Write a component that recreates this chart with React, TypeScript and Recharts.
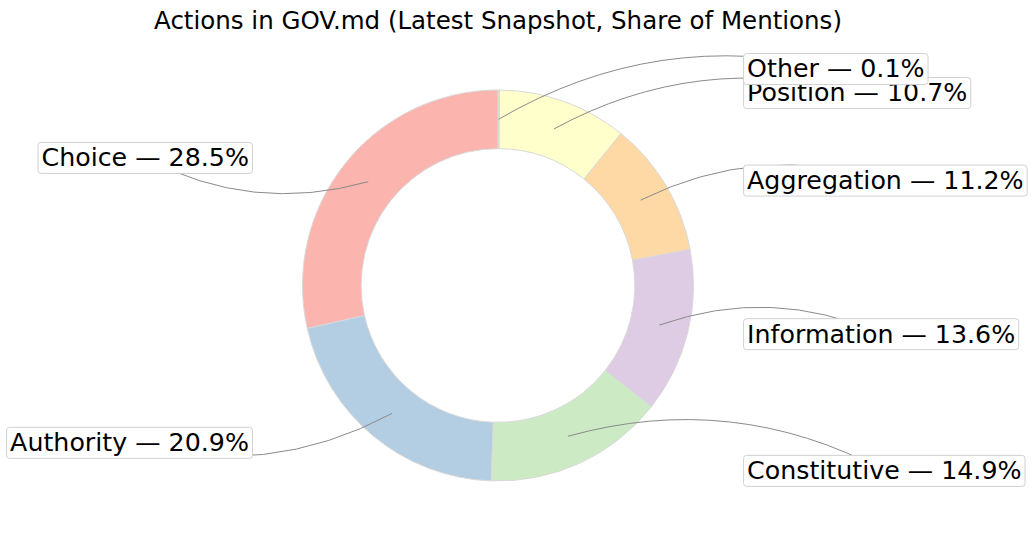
import { PieChart, Pie, Cell } from "recharts";

const categories = ["Choice", "Authority", "Constitutive", "Information", "Aggregation", "Position", "Other"];
const shares = [28.5, 20.9, 14.9, 13.6, 11.2, 10.7, 0.1];
const colors = ["#fbb4ae", "#b3cde3", "#ccebc5", "#decbe4", "#fed9a6", "#ffffcc", "#e5d8bd"];
const title = "Actions in GOV.md (Latest Snapshot, Share of Mentions)";

const W = 1033;
const H = 540;
const CX = 498;
const CY = 285.5;
const R = 195.5;
const FONT = '"DejaVu Sans", sans-serif';
const LABEL_SIZE = 25.3;
const TITLE_SIZE = 24.5;
const RAD = Math.PI / 180;

const data = categories.map((name, i) => ({ name, value: shares[i] }));

// vertical label slots: sin of the wedge mid-angle, pushed apart where boxes would collide
const total = shares.reduce((a, b) => a + b, 0);
const labelUnits: number[] = (() => {
  let acc = 0;
  const items = shares.map((v, i) => {
    const mid = 90 + ((acc + v / 2) / total) * 360;
    acc += v;
    return { i, right: Math.cos(mid * RAD) >= 0, y: Math.sin(mid * RAD) };
  });
  const gap = 0.1175;
  const out = new Array(shares.length).fill(0);
  [true, false].forEach((side) => {
    const s = items.filter((it) => it.right === side).sort((a, b) => a.y - b.y);
    for (let k = 1; k < s.length; k++) {
      if (s[k].y < s[k - 1].y + gap) s[k].y = s[k - 1].y + gap;
    }
    s.forEach((it) => (out[it.i] = it.y));
  });
  return out;
})();

let ctx: CanvasRenderingContext2D | null = null;
const textWidth = (s: string) => {
  if (!ctx) ctx = document.createElement("canvas").getContext("2d");
  if (!ctx) return s.length * LABEL_SIZE * 0.6;
  ctx.font = `${LABEL_SIZE}px ${FONT}`;
  return ctx.measureText(s).width;
};

const renderLabel = (props: any) => {
  const { cx, cy, midAngle, innerRadius, outerRadius, index, percent } = props;
  const cos = Math.cos(-midAngle * RAD);
  const sin = Math.sin(-midAngle * RAD);
  const rp = (innerRadius + outerRadius) / 2;
  const px = cx + rp * cos;
  const py = cy + rp * sin;
  const right = cos >= 0;
  const text = `${categories[index]} — ${(percent * 100).toFixed(1)}%`;
  const w = textWidth(text);
  const tx = cx + (right ? 1 : -1) * 1.274 * outerRadius;
  const ty = cy - 1.045 * outerRadius * labelUnits[index];
  const bw = w + 7;
  const bh = 31;
  const bx = right ? tx - 3.5 : tx - w - 3.5;
  const by = ty - bh / 2;
  const ax = bx + bw / 2;
  const ay = ty;
  const dx = px - ax;
  const dy = py - ay;
  const qx = (ax + px) / 2 - 0.2 * dy;
  const qy = (ay + py) / 2 + 0.2 * dx;
  return (
    <g key={`lbl-${index}`}>
      <path d={`M${ax},${ay} Q${qx},${qy} ${px},${py}`} fill="none" stroke="#8a8a8a" strokeWidth={1} />
      <rect x={bx} y={by} width={bw} height={bh} rx={3} ry={3} fill="#ffffff" stroke="#d0d0d0" strokeWidth={1} />
      <text x={tx} y={ty + 8.4} textAnchor={right ? "start" : "end"} fontFamily={FONT} fontSize={LABEL_SIZE} fill="#000">
        {text}
      </text>
    </g>
  );
};

export default function App() {
  return (
    <div style={{ position: "absolute", left: 0, top: 0, width: W, height: H, background: "#fff" }}>
      <PieChart width={W} height={H} margin={{ top: 0, right: 0, bottom: 0, left: 0 }}>
        <text x={CX} y={28.5} textAnchor="middle" fontFamily={FONT} fontSize={TITLE_SIZE} fill="#000">
          {title}
        </text>
        <Pie
          data={data}
          dataKey="value"
          nameKey="name"
          cx={CX}
          cy={CY}
          outerRadius={R}
          innerRadius={R * 0.7}
          startAngle={90}
          endAngle={450}
          stroke="#d9d9d9"
          strokeWidth={1}
          label={renderLabel}
          labelLine={false}
          isAnimationActive={false}
        >
          {data.map((d, i) => (
            <Cell key={d.name} fill={colors[i]} />
          ))}
        </Pie>
      </PieChart>
    </div>
  );
}
